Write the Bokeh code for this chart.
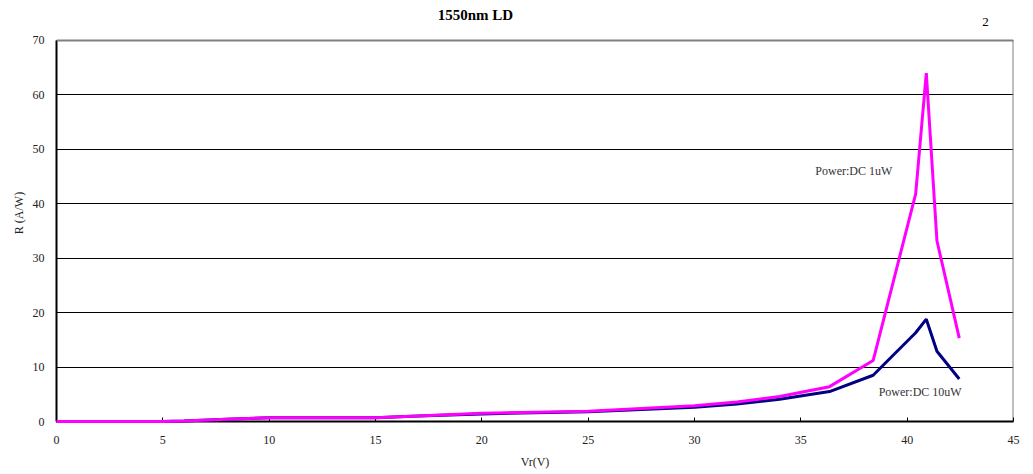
from bokeh.plotting import figure
from bokeh.models import Range1d, Label, FixedTicker, Span
from bokeh.embed import file_html
from bokeh.resources import INLINE

# Data
vr = [0, 5, 6, 8, 10, 15, 17, 20, 25, 30, 32, 34, 36.35, 38.4, 40.4, 40.9, 41.4, 42.45]
r_1uw = [0, 0, 0.1, 0.4, 0.7, 0.7, 1.0, 1.5, 1.9, 2.9, 3.6, 4.6, 6.4, 11.2, 41.8, 64.0, 33.2, 15.3]
r_10uw = [0, 0, 0.1, 0.4, 0.7, 0.7, 1.0, 1.4, 1.8, 2.6, 3.2, 4.1, 5.5, 8.5, 16.3, 18.8, 12.9, 7.8]
x_ticks = [0, 5, 10, 15, 20, 25, 30, 35, 40, 45]
y_ticks = [0, 10, 20, 30, 40, 50, 60, 70]

FONT = "Liberation Serif"
X_MAX = x_ticks[-1]
Y_MAX = y_ticks[-1]
Y_VIEW = 76.6  # extra room above the axes box for the title texts

p = figure(width=1033, height=474, output_backend="svg", toolbar_location=None,
           x_range=Range1d(0, X_MAX), y_range=Range1d(0, Y_VIEW),
           min_border_left=56, min_border_right=20, min_border_top=4, min_border_bottom=53)

p.outline_line_color = None
p.background_fill_color = "white"
p.border_fill_color = "white"

p.xgrid.visible = False
p.ygrid.ticker = FixedTicker(ticks=y_ticks)
p.ygrid.grid_line_color = "#000000"
p.ygrid.grid_line_width = 1

for ax in (p.xaxis[0], p.yaxis[0]):
    ax.axis_line_color = "#000000"
    ax.axis_line_width = 2
    ax.major_tick_in = 4
    ax.major_tick_out = 0
    ax.major_tick_line_color = "#000000"
    ax.minor_tick_line_color = None
    ax.major_label_text_font = FONT
    ax.major_label_text_font_size = "12px"
    ax.major_label_text_color = "#222222"
    ax.axis_label_text_font = FONT
    ax.axis_label_text_font_size = "12px"
    ax.axis_label_text_font_style = "normal"
    ax.axis_label_text_color = "#222222"

p.yaxis.bounds = (0, Y_MAX)
p.xaxis.ticker = FixedTicker(ticks=x_ticks)
p.yaxis.ticker = FixedTicker(ticks=y_ticks)
p.xaxis.axis_label = "Vr(V)"
p.yaxis.axis_label = "R (A/W)"
p.xaxis.major_label_standoff = 14
p.yaxis.major_label_standoff = 12
p.xaxis.axis_label_standoff = 8
p.yaxis.axis_label_standoff = 4

# grey box border (top and right)
p.add_layout(Span(location=Y_MAX, dimension="width", line_color="#808080", line_width=2))
p.segment(x0=[X_MAX], y0=[0], x1=[X_MAX], y1=[Y_MAX], line_color="#808080", line_width=2)

l1 = p.line(vr, r_10uw, line_color="#000080", line_width=3)
l2 = p.line(vr, r_1uw, line_color="#FF00FF", line_width=3)
l1.level = "overlay"
l2.level = "overlay"

p.add_layout(Label(x=19.7, y=74.6, text="1550nm LD", text_font=FONT,
                   text_font_size="15px", text_font_style="bold", text_color="#000000",
                   text_baseline="middle", text_align="center"))
p.add_layout(Label(x=43.68, y=73.3, text="2", text_font=FONT,
                   text_font_size="13px", text_color="#000000",
                   text_baseline="middle", text_align="center"))
p.add_layout(Label(x=35.68, y=46.0, text="Power:DC 1uW", text_font=FONT,
                   text_font_size="12px", text_color="#333333",
                   text_baseline="middle", text_align="left"))
p.add_layout(Label(x=38.66, y=5.45, text="Power:DC 10uW", text_font=FONT,
                   text_font_size="12px", text_color="#333333",
                   text_baseline="middle", text_align="left"))

open("out.html", "w").write(file_html(p, INLINE))
